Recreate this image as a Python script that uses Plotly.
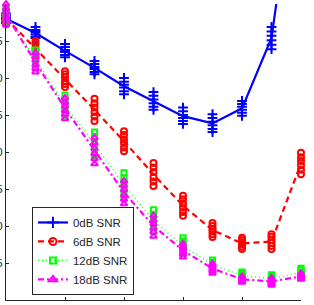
import numpy as np
import plotly.graph_objects as go

# x positions (0..10)
x_vals = list(range(11))

# Six repeated trials per SNR level
snr0_trials = [
    [38.7, 36.9, 34.6, 32.3, 30.0, 28.1, 26.0, 25.1, 26.9, 36.9, 62.2],
    [38.4, 36.5, 34.2, 31.9, 29.5, 27.6, 25.5, 24.6, 26.5, 36.3, 62.9],
    [38.1, 36.2, 33.8, 31.5, 29.1, 27.1, 25.0, 24.1, 26.1, 35.7, 63.5],
    [37.9, 35.9, 33.5, 31.2, 28.7, 26.6, 24.6, 23.6, 25.7, 35.1, 64.2],
    [37.6, 35.6, 33.1, 30.8, 28.2, 26.1, 24.2, 23.1, 25.3, 34.5, 64.9],
    [37.4, 35.4, 32.8, 30.5, 27.8, 25.7, 23.8, 22.7, 24.9, 33.9, 65.5],
]
snr6_trials = [
    [38.9, 35.0, 30.9, 27.2, 22.8, 18.5, 14.1, 10.4, 8.4, 8.9, 19.9],
    [38.6, 34.6, 30.5, 26.6, 22.3, 17.9, 13.6, 10.0, 8.1, 8.5, 19.3],
    [38.2, 34.1, 30.1, 26.0, 21.7, 17.3, 13.0, 9.6, 7.8, 8.1, 18.8],
    [37.9, 33.7, 29.6, 25.4, 21.2, 16.6, 12.5, 9.3, 7.5, 7.7, 18.2],
    [37.6, 33.2, 29.2, 24.8, 20.6, 16.0, 11.9, 8.9, 7.2, 7.3, 17.6],
    [37.3, 32.8, 28.8, 24.2, 20.1, 15.4, 11.4, 8.5, 6.9, 6.9, 17.0],
]
snr12_trials = [
    [39.5, 33.8, 27.7, 22.7, 17.2, 12.2, 8.4, 5.4, 3.8, 3.4, 4.3],
    [39.1, 33.3, 27.1, 22.1, 16.5, 11.6, 8.0, 5.1, 3.6, 3.2, 4.1],
    [38.7, 32.8, 26.6, 21.4, 15.9, 11.0, 7.5, 4.9, 3.4, 3.0, 3.8],
    [38.4, 32.4, 26.0, 20.8, 15.2, 10.5, 7.1, 4.6, 3.2, 2.8, 3.6],
    [38.0, 31.9, 25.5, 20.1, 14.6, 9.9, 6.6, 4.4, 3.0, 2.6, 3.3],
    [37.6, 31.4, 24.9, 19.5, 13.9, 9.3, 6.2, 4.1, 2.8, 2.4, 3.1],
]
snr18_trials = [
    [40.0, 33.4, 27.3, 21.9, 16.1, 11.4, 7.6, 4.9, 3.2, 3.0, 3.6],
    [39.4, 32.9, 26.7, 21.2, 15.5, 10.8, 7.2, 4.6, 3.0, 2.8, 3.4],
    [38.9, 32.4, 26.2, 20.5, 14.9, 10.3, 6.9, 4.4, 2.9, 2.6, 3.3],
    [38.3, 31.8, 25.6, 19.8, 14.2, 9.7, 6.5, 4.1, 2.7, 2.4, 3.1],
    [37.8, 31.3, 25.1, 19.1, 13.6, 9.2, 6.2, 3.9, 2.6, 2.2, 3.0],
    [37.2, 30.8, 24.5, 18.4, 13.0, 8.6, 5.8, 3.6, 2.4, 2.0, 2.8],
]

series_names = ["0dB SNR", "6dB SNR", "12dB SNR", "18dB SNR"]
x_ticks = [0, 2, 4, 6, 8, 10]
y_ticks = [0, 5, 10, 15, 20, 25, 30, 35, 40]

series = [
    dict(name=series_names[0], trials=snr0_trials,
         color="#0000FF", dash="solid", width=2.2, symbol="cross-thin", msize=7, mlw=2),
    dict(name=series_names[1], trials=snr6_trials,
         color="#FF0000", dash="6px,4px", width=2.2, symbol="circle-open", msize=6, mlw=2),
    dict(name=series_names[2], trials=snr12_trials,
         color="#00FF00", dash="1px,3px", width=1.2, symbol="square-open", msize=5, mlw=2),
    dict(name=series_names[3], trials=snr18_trials,
         color="#FF00FF", dash="6px,3px,2px,3px", width=2.2, symbol="triangle-up-open", msize=6, mlw=2),
]

fig = go.Figure()
for s in series:
    mean_vals = np.mean(np.array(s["trials"]), axis=0)
    fig.add_trace(go.Scatter(
        x=x_vals, y=mean_vals, mode="lines", showlegend=False, hoverinfo="skip",
        line=dict(color=s["color"], width=s["width"], dash=s["dash"])))
    for tr in s["trials"]:
        fig.add_trace(go.Scatter(
            x=x_vals, y=tr, mode="markers", showlegend=False, cliponaxis=False,
            marker=dict(symbol=s["symbol"], size=s["msize"], color=s["color"],
                        line=dict(color=s["color"], width=s["mlw"]))))

for s in series:
    fig.add_trace(go.Scatter(
        x=[None], y=[None], mode="lines+markers", name=s["name"],
        line=dict(color=s["color"], width=s["width"], dash=s["dash"]),
        marker=dict(symbol=s["symbol"], size=s["msize"] + 1, color=s["color"],
                    line=dict(color=s["color"], width=s["mlw"]))))

fig.update_layout(
    width=314, height=305,
    margin=dict(l=6, r=13, t=4, b=5, autoexpand=False),
    paper_bgcolor="white", plot_bgcolor="white",
    font=dict(family="Liberation Sans, Arial, sans-serif", size=11.5, color="#262626"),
    legend=dict(x=0.088, y=0.017, xanchor="left", yanchor="bottom",
                bgcolor="white", bordercolor="#262626", borderwidth=1,
                font=dict(size=11.5), tracegroupgap=0),
    xaxis=dict(range=[0, 10], tickvals=x_ticks, ticks="inside", ticklen=3,
               tickcolor="#262626", showline=True, linecolor="#262626", linewidth=1,
               showgrid=False, zeroline=False, showticklabels=False, automargin=False),
    yaxis=dict(range=[0, 40], tickvals=y_ticks, ticks="inside", ticklen=3,
               tickcolor="#262626", showline=True, linecolor="#262626", linewidth=1,
               showgrid=False, zeroline=False, automargin=False),
)

fig.write_html("out.html")
